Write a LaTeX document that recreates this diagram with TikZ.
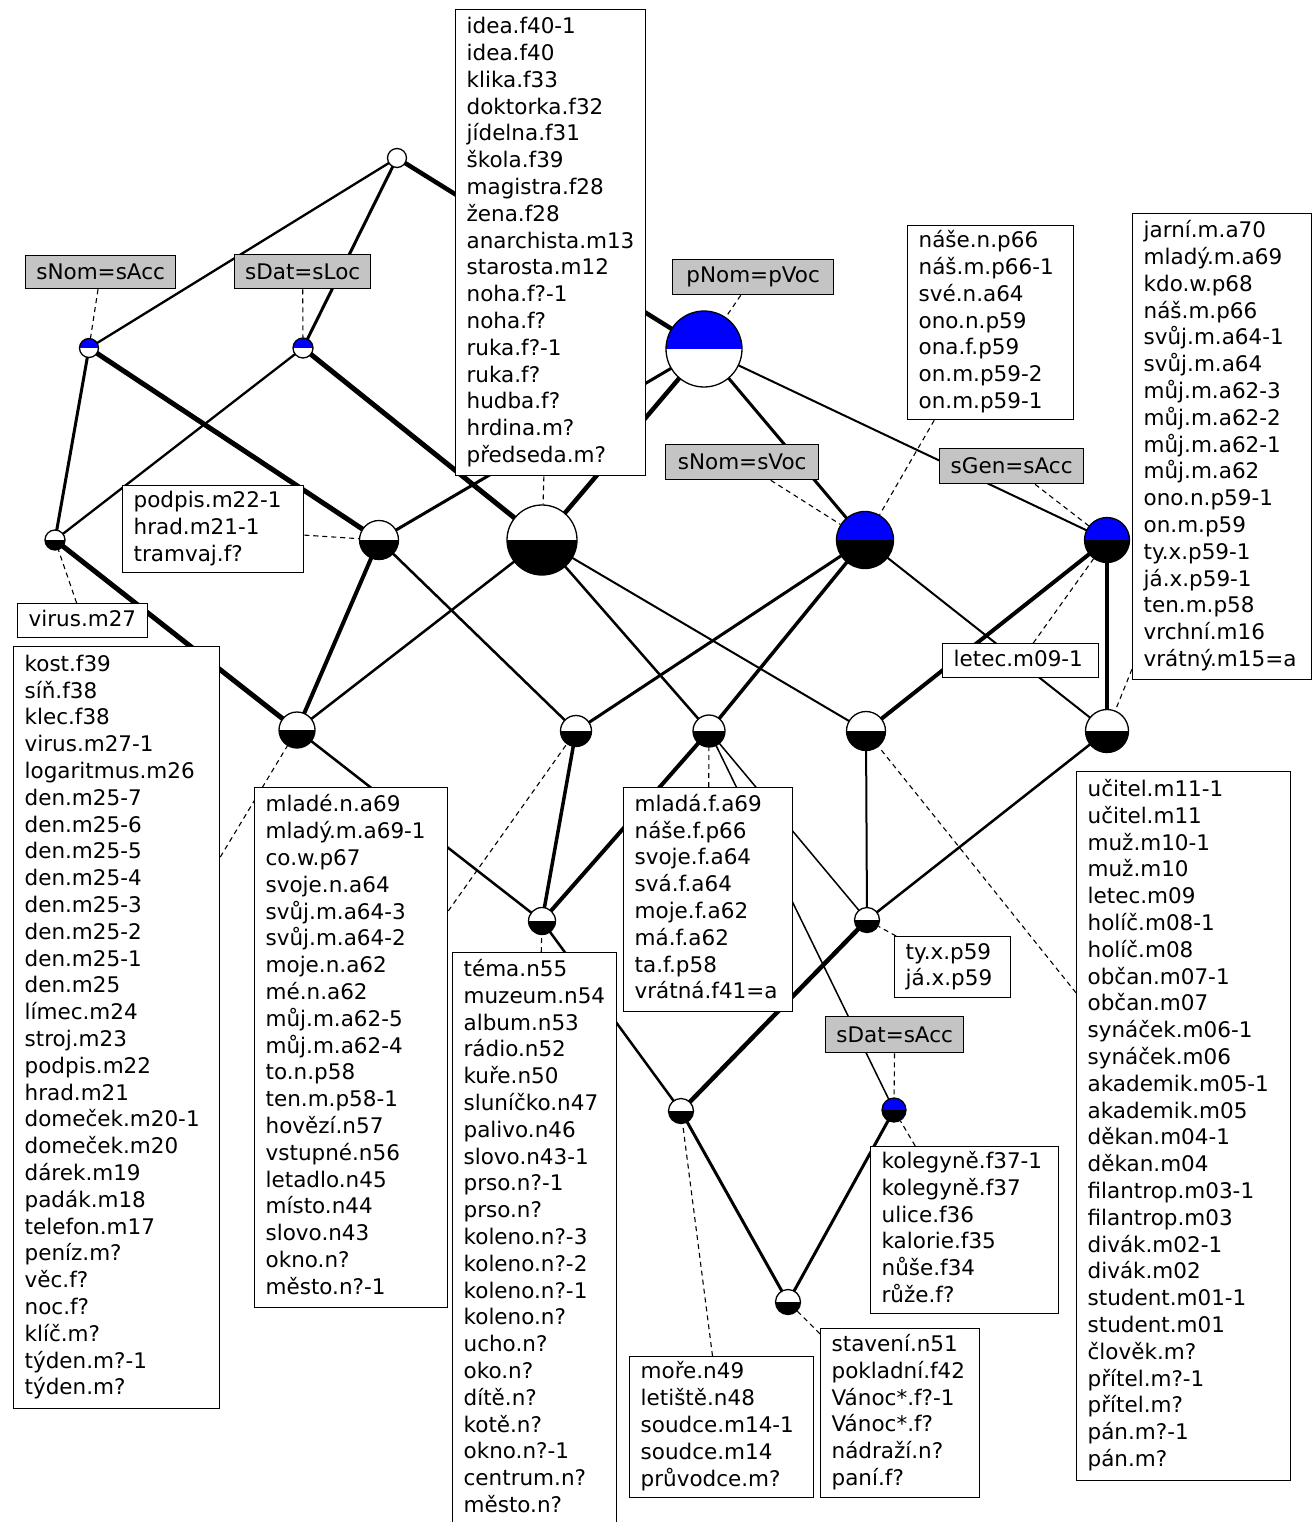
\documentclass[tikz,border=0pt]{standalone}
\usepackage{fontspec}
\setmainfont{DejaVu Sans}
\pgfdeclarelayer{edgelayer}
\pgfsetlayers{edgelayer,main}
\definecolor{attrgray}{RGB}{196,196,196}
\definecolor{halfblue}{RGB}{0,0,255}
\tikzset{
  concept/.style n args={3}{circle, draw=black, line width=1.3pt, inner sep=0pt, minimum size=#1,
    path picture={
      \fill[#2] (path picture bounding box.north west) rectangle (path picture bounding box.east);
      \fill[#3] (path picture bounding box.west) rectangle (path picture bounding box.south east);
    }},
  wb/.style={concept={#1}{white}{black}},
  bw/.style={concept={#1}{halfblue}{white}},
  bb/.style={concept={#1}{halfblue}{black}},
  ww/.style={concept={#1}{white}{white}},
  labfont/.style={font=\fontsize{21.5pt}{26.8pt}\selectfont},
  objbox/.style={draw=black, line width=1.3pt, fill=white, anchor=north west,
    align=left, inner xsep=11pt, inner ysep=0pt, labfont,
    execute at begin node=\strut, execute at end node=\strut},
  attrbox/.style={draw=black, line width=1.3pt, fill=attrgray, anchor=north west,
    inner sep=0pt, labfont},
  lnk/.style={line width=#1},
  dsh/.style={line width=1.1pt, dash pattern=on 5pt off 4pt},
}
\begin{document}
\begin{tikzpicture}[x=1pt, y=-1pt]
\useasboundingbox (0,0) rectangle (1313,1522);
\clip (0,0) rectangle (1313,1522);

% concepts of the lattice
\node[ww=19pt] (T) at (397,158) {};
\node[bw=19pt] (A) at (89,348) {};
\node[bw=20pt] (B) at (303,348) {};
\node[bw=76pt] (C) at (704,349) {};
\node[wb=20pt] (D) at (55,540) {};
\node[wb=39pt] (E) at (379,540) {};
\node[wb=70pt] (F) at (542,540) {};
\node[bb=57pt] (G) at (865,540) {};
\node[bb=45pt] (H) at (1107,540) {};
\node[wb=36pt] (I) at (297,730) {};
\node[wb=31pt] (J) at (576,731) {};
\node[wb=32pt] (K) at (709,731) {};
\node[wb=39pt] (L) at (866,731) {};
\node[wb=43pt] (M) at (1107,731) {};
\node[wb=27pt] (N) at (542,921) {};
\node[wb=25pt] (O) at (867,920) {};
\node[wb=25pt] (P) at (681,1111) {};
\node[bb=24pt] (Q) at (894,1110) {};
\node[wb=25pt] (R) at (788,1302) {};

% attribute labels
\node[attrbox, minimum width=150pt, minimum height=33pt] (sNomsAcc) at (25,255) {sNom=sAcc};
\node[attrbox, minimum width=136pt, minimum height=34pt] (sDatsLoc) at (234,254) {sDat=sLoc};
\node[attrbox, minimum width=161pt, minimum height=35pt] (pNompVoc) at (672,259) {pNom=pVoc};
\node[attrbox, minimum width=153pt, minimum height=35pt] (sNomsVoc) at (665,444) {sNom=sVoc};
\node[attrbox, minimum width=144pt, minimum height=35pt] (sGensAcc) at (939,448) {sGen=sAcc};
\node[attrbox, minimum width=138pt, minimum height=36pt] (sDatsAcc) at (825,1016) {sDat=sAcc};

% object labels
\node[objbox, text width=168pt, minimum height=466pt] (topbox) at (455,9)
 {idea.f40-1\\idea.f40\\klika.f33\\doktorka.f32\\jídelna.f31\\škola.f39\\magistra.f28\\žena.f28\\anarchista.m13\\starosta.m12\\noha.f?-1\\noha.f?\\ruka.f?-1\\ruka.f?\\hudba.f?\\hrdina.m?\\předseda.m?};
\node[objbox, text width=144pt, minimum height=194pt] (nasebox) at (907,225)
 {náše.n.p66\\náš.m.p66-1\\své.n.a64\\ono.n.p59\\ona.f.p59\\on.m.p59-2\\on.m.p59-1};
\node[objbox, text width=157pt, minimum height=466pt] (jarnibox) at (1132,213)
 {jarní.m.a70\\mladý.m.a69\\kdo.w.p68\\náš.m.p66\\svůj.m.a64-1\\svůj.m.a64\\můj.m.a62-3\\můj.m.a62-2\\můj.m.a62-1\\můj.m.a62\\ono.n.p59-1\\on.m.p59\\ty.x.p59-1\\já.x.p59-1\\ten.m.p58\\vrchní.m16\\vrátný.m15=a};
\node[objbox, text width=134pt, minimum height=34pt] (letecbox) at (942,643) {letec.m09-1};
\node[objbox, text width=159pt, minimum height=87pt] (podpisbox) at (122,485)
 {podpis.m22-1\\hrad.m21-1\\tramvaj.f?};
\node[objbox, text width=108pt, minimum height=34pt] (virusbox) at (17,603) {virus.m27};
\node[objbox, text width=184pt, minimum height=762pt] (kostbox) at (13,646)
 {kost.f39\\síň.f38\\klec.f38\\virus.m27-1\\logaritmus.m26\\den.m25-7\\den.m25-6\\den.m25-5\\den.m25-4\\den.m25-3\\den.m25-2\\den.m25-1\\den.m25\\límec.m24\\stroj.m23\\podpis.m22\\hrad.m21\\domeček.m20-1\\domeček.m20\\dárek.m19\\padák.m18\\telefon.m17\\peníz.m?\\věc.f?\\noc.f?\\klíč.m?\\týden.m?-1\\týden.m?};
\node[objbox, text width=171pt, minimum height=520pt] (mladebox) at (254,787)
 {mladé.n.a69\\mladý.m.a69-1\\co.w.p67\\svoje.n.a64\\svůj.m.a64-3\\svůj.m.a64-2\\moje.n.a62\\mé.n.a62\\můj.m.a62-5\\můj.m.a62-4\\to.n.p58\\ten.m.p58-1\\hovězí.n57\\vstupné.n56\\letadlo.n45\\místo.n44\\slovo.n43\\okno.n?\\město.n?-1};
\node[objbox, text width=147pt, minimum height=224pt] (mladabox) at (623,787)
 {mladá.f.a69\\náše.f.p66\\svoje.f.a64\\svá.f.a64\\moje.f.a62\\má.f.a62\\ta.f.p58\\vrátná.f41=a};
\node[objbox, text width=142pt, minimum height=573pt] (temabox) at (452,952)
 {téma.n55\\muzeum.n54\\album.n53\\rádio.n52\\kuře.n50\\sluníčko.n47\\palivo.n46\\slovo.n43-1\\prso.n?-1\\prso.n?\\koleno.n?-3\\koleno.n?-2\\koleno.n?-1\\koleno.n?\\ucho.n?\\oko.n?\\dítě.n?\\kotě.n?\\okno.n?-1\\centrum.n?\\město.n?};
\node[objbox, text width=94pt, minimum height=61pt] (tybox) at (894,936) {ty.x.p59\\já.x.p59};
\node[objbox, text width=166pt, minimum height=167pt] (kolegynebox) at (870,1146)
 {kolegyně.f37-1\\kolegyně.f37\\ulice.f36\\kalorie.f35\\nůše.f34\\růže.f?};
\node[objbox, text width=162pt, minimum height=141pt] (morebox) at (629,1356)
 {moře.n49\\letiště.n48\\soudce.m14-1\\soudce.m14\\průvodce.m?};
\node[objbox, text width=137pt, minimum height=169pt] (stavenibox) at (820,1328)
 {stavení.n51\\pokladní.f42\\Vánoc*.f?-1\\Vánoc*.f?\\nádraží.n?\\paní.f?};
\node[objbox, text width=192pt, minimum height=709pt] (ucitelbox) at (1076,771)
 {učitel.m11-1\\učitel.m11\\muž.m10-1\\muž.m10\\letec.m09\\holíč.m08-1\\holíč.m08\\občan.m07-1\\občan.m07\\synáček.m06-1\\synáček.m06\\akademik.m05-1\\akademik.m05\\děkan.m04-1\\děkan.m04\\filantrop.m03-1\\filantrop.m03\\divák.m02-1\\divák.m02\\student.m01-1\\student.m01\\člověk.m?\\přítel.m?-1\\přítel.m?\\pán.m?-1\\pán.m?};

\begin{pgfonlayer}{edgelayer}
  % lattice order
  \draw[lnk=2.3pt] (T.center) -- (A.center);
  \draw[lnk=3pt]   (T.center) -- (B.center);
  \draw[lnk=4.5pt] (T.center) -- (C.center);
  \draw[lnk=3pt]   (A.center) -- (D.center);
  \draw[lnk=5pt]   (A.center) -- (E.center);
  \draw[lnk=2.3pt] (B.center) -- (D.center);
  \draw[lnk=5pt]   (B.center) -- (F.center);
  \draw[lnk=3pt]   (C.center) -- (E.center);
  \draw[lnk=4.5pt] (C.center) -- (F.center);
  \draw[lnk=3pt]   (C.center) -- (G.center);
  \draw[lnk=2pt]   (C.center) -- (H.center);
  \draw[lnk=5pt]   (D.center) -- (I.center);
  \draw[lnk=4pt]   (E.center) -- (I.center);
  \draw[lnk=2.5pt] (E.center) -- (J.center);
  \draw[lnk=2.5pt] (F.center) -- (I.center);
  \draw[lnk=2.5pt] (F.center) -- (K.center);
  \draw[lnk=2pt]   (F.center) -- (L.center);
  \draw[lnk=3pt]   (G.center) -- (J.center);
  \draw[lnk=3.5pt] (G.center) -- (K.center);
  \draw[lnk=2pt]   (G.center) -- (M.center);
  \draw[lnk=4pt]   (H.center) -- (L.center);
  \draw[lnk=4pt]   (H.center) -- (M.center);
  \draw[lnk=2.5pt] (I.center) -- (N.center);
  \draw[lnk=3.5pt] (J.center) -- (N.center);
  \draw[lnk=4pt]   (K.center) -- (N.center);
  \draw[lnk=1.5pt] (K.center) -- (O.center);
  \draw[lnk=1.5pt] (K.center) -- (Q.center);
  \draw[lnk=2pt]   (L.center) -- (O.center);
  \draw[lnk=2.5pt] (M.center) -- (O.center);
  \draw[lnk=2.5pt] (N.center) -- (P.center);
  \draw[lnk=4.5pt] (O.center) -- (P.center);
  \draw[lnk=3pt]   (P.center) -- (R.center);
  \draw[lnk=3pt]   (Q.center) -- (R.center);
  % label leaders
  \draw[dsh] (sNomsAcc) -- (A);
  \draw[dsh] (sDatsLoc) -- (B);
  \draw[dsh] (pNompVoc) -- (C);
  \draw[dsh] (sNomsVoc) -- (G);
  \draw[dsh] (sGensAcc) -- (H);
  \draw[dsh] (sDatsAcc) -- (Q);
  \draw[dsh] (topbox) -- (F);
  \draw[dsh] (podpisbox) -- (E);
  \draw[dsh] (virusbox) -- (D);
  \draw[dsh] (kostbox) -- (I);
  \draw[dsh] (mladebox) -- (J);
  \draw[dsh] (mladabox) -- (K);
  \draw[dsh] (temabox) -- (N);
  \draw[dsh] (nasebox) -- (G);
  \draw[dsh] (letecbox) -- (H);
  \draw[dsh] (jarnibox) -- (M);
  \draw[dsh] (ucitelbox) -- (L);
  \draw[dsh] (tybox) -- (O);
  \draw[dsh] (kolegynebox) -- (Q);
  \draw[dsh] (morebox) -- (P);
  \draw[dsh] (stavenibox) -- (R);
\end{pgfonlayer}
\end{tikzpicture}
\end{document}
